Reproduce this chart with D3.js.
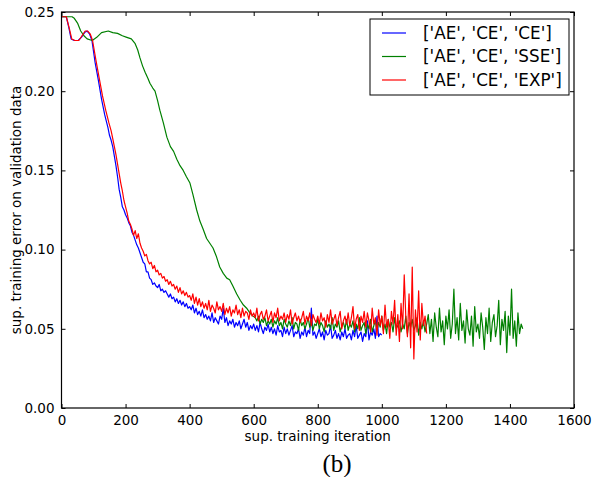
<!DOCTYPE html>
<html>
<head>
<meta charset="utf-8">
<script src="https://cdn.jsdelivr.net/npm/d3@7"></script>
<style>
  body { margin: 0; background: #fff; }
  svg text { font-family: "DejaVu Sans", sans-serif; }
</style>
</head>
<body>
<div id="chart"></div>
<script>
const margin = { top: 12, right: 19, bottom: 69, left: 61.5 },
    width = 593,
    height = 477,
    plotW = width - margin.left - margin.right,
    plotH = height - margin.top - margin.bottom;

// series names and colours (legend order)
const names = ["['AE', 'CE', 'CE']", "['AE', 'CE', 'SSE']", "['AE', 'CE', 'EXP']"];
const colors = ["#0000ff", "#008000", "#ff0000"];
const xTicks = [0, 200, 400, 600, 800, 1000, 1200, 1400, 1600];
const yTicks = [0.00, 0.05, 0.10, 0.15, 0.20, 0.25];

// errors are in thousandths (0.001). smooth start as [iteration, error]
const blueStart = [[0,247],[15,247],[22,241],[30,233],[40,232],[52,232],[62,234],[72,237],[80,238],[88,236],[95,232],[105,218],[115,207],[125,195],[135,185],[145,177]];
// then every 5 iterations from 150
const blueNoisy = [
  172,169,165,159,153,146,138,133,127,125,
  122,120,117,115,111,109,106,103,101,98,
  95,92,91,86,86,82,81,78,79,77,
  76,78,74,75,73,74,72,70,72,69,
  70,67,69,66,68,65,67,64,66,63,
  64,62,65,60,63,59,61,58,62,57,
  59,56,58,55,60,54,57,55,53,58,
  56,63,54,57,52,55,53,56,51,54,
  52,55,50,53,56,51,54,49,52,50,
  53,49,52,48,54,50,47,51,49,53,
  48,51,47,50,46,52,48,49,45,51,
  47,50,46,49,52,45,48,47,50,44,
  48,46,51,45,49,47,63,46,48,44,
  47,50,45,48,43,49,46,47,52,44,
  46,49,44,47,43,48,45,50,44,46,
  47,43,49,45,52,44,46,48,42,47,
  45,55,43,48,46,50,44,58,45,47,
  46
];

const greenStart = [[0,247],[20,247],[33,247],[40,246],[50,243],[60,238],[70,235],[80,233],[96,232],[110,234],[125,237],[146,238],[160,237],[175,236.5],[190,235],[204,234],[218,233],[230,230],[238,226],[245,221],[253,216],[261,212],[270,208],[276,205],[285,202],[292,200],[300,194],[307,188],[318,180],[329,171],[340,165],[350,162],[360,157],[370,153],[380,150],[390,146],[401,142],[410,135],[422,125],[432,118],[442,113],[453,107],[463,104],[473,101],[483,96],[494,89],[505,85],[516,82],[525,81],[535,77],[547,72],[558,68],[568,65],[578,63],[588,60],[598,58]];
// then every 5 iterations from 605
const greenNoisy = [
  57,55,58,53,56,54,57,52,55,53,
  56,51,55,53,57,52,54,50,56,53,
  51,55,52,57,50,54,53,49,56,52,
  54,50,53,57,51,55,49,53,52,56,
  50,54,52,48,55,51,53,50,57,49,
  53,51,55,48,52,54,50,56,49,53,
  51,55,48,53,50,57,49,52,54,47,
  53,50,56,48,52,55,49,54,51,58,
  49,53,47,56,51,54,48,57,50,52,
  55,48,53,50,58,47,54,51,56,49,
  52,57,46,54,50,55,48,53,59,47,
  56,42,60,51,45,63,48,55,40,58,
  50,62,44,53,75,47,57,43,66,49,
  55,41,62,50,46,58,39,64,48,53,
  44,60,51,37,57,47,63,42,54,59,
  45,52,68,40,56,49,61,35,58,46,
  75,44,55,39,60,47,53,50
];

const redStart = [[0,247],[15,247],[24,240],[32,233],[42,232],[54,232],[64,235],[74,238],[82,238],[90,236],[97,232],[108,219],[118,208],[128,197],[138,188],[148,180]];
// then every 5 iterations from 155
const redNoisy = [
  175,170,165,160,154,148,142,137,131,
  127,123,118,116,113,109,112,107,110,104,
  101,99,96,97,93,91,92,88,90,86,
  87,84,85,82,83,80,81,78,80,77,
  78,75,77,73,76,72,74,71,73,70,
  71,68,72,66,70,65,69,64,67,63,
  66,62,68,61,65,63,60,67,62,64,
  61,66,59,63,60,64,58,62,60,65,
  59,62,57,63,58,61,60,56,62,58,
  60,57,63,55,59,61,56,58,62,55,
  58,61,54,60,57,63,55,58,56,60,
  54,59,56,62,53,57,60,55,58,54,
  57,61,53,58,55,60,52,59,56,54,
  58,53,60,55,57,51,59,54,62,53,
  56,59,52,57,61,50,55,58,53,60,
  52,57,64,50,56,59,49,58,54,61,
  51,60,55,48,63,53,57,46,62,52,
  58,47,65,51,56,44,61,53,68,46,
  59,42,66,50,84,57,45,72,38,89,
  31,62,48,74,43,66,52,58,47
];

const joinSeries = (start, noisy, from) =>
    start.concat(noisy.map((v, i) => [from + i * 5, v]))
        .map(d => ({ it: d[0], err: d[1] / 1000 }));

const series = [
    joinSeries(blueStart, blueNoisy, 150),
    joinSeries(greenStart, greenNoisy, 605),
    joinSeries(redStart, redNoisy, 155)
];

const svg = d3.select("#chart")
    .append("svg")
    .attr("width", width)
    .attr("height", height);

const x = d3.scaleLinear().domain([0, 1600]).range([0, plotW]);
const y = d3.scaleLinear().domain([0, 0.25]).range([plotH, 0]);

const plot = svg.append("g")
    .attr("transform", `translate(${margin.left}, ${margin.top})`);

plot.append("clipPath").attr("id", "clip")
    .append("rect").attr("width", plotW).attr("height", plotH);

const line = d3.line().x(d => x(d.it)).y(d => y(d.err));

plot.append("g").attr("clip-path", "url(#clip)")
    .selectAll("path")
    .data(series)
    .join("path")
    .attr("d", line)
    .attr("fill", "none")
    .attr("stroke", (d, i) => colors[i])
    .attr("stroke-width", 1.2)
    .attr("stroke-linejoin", "round");

// axes with inward ticks on all four sides
const styleAxis = g => {
    g.select(".domain").remove();
    g.selectAll("line").attr("stroke", "#000");
    g.selectAll("text").attr("font-size", "13.5px").attr("fill", "#000");
};

plot.append("g")
    .attr("transform", `translate(0, ${plotH})`)
    .call(d3.axisBottom(x).tickValues(xTicks).tickSizeInner(-4).tickSizeOuter(0).tickPadding(7).tickFormat(d3.format("d")))
    .call(styleAxis);

plot.append("g")
    .call(d3.axisTop(x).tickValues(xTicks).tickSizeInner(-4).tickSizeOuter(0).tickFormat(""))
    .call(styleAxis);

plot.append("g")
    .call(d3.axisLeft(y).tickValues(yTicks).tickSizeInner(-4).tickSizeOuter(0).tickPadding(7).tickFormat(d3.format(".2f")))
    .call(styleAxis);

plot.append("g")
    .attr("transform", `translate(${plotW}, 0)`)
    .call(d3.axisRight(y).tickValues(yTicks).tickSizeInner(-4).tickSizeOuter(0).tickFormat(""))
    .call(styleAxis);

plot.append("rect")
    .attr("width", plotW)
    .attr("height", plotH)
    .attr("fill", "none")
    .attr("stroke", "#000")
    .attr("stroke-width", 1.2);

// axis titles
svg.append("text")
    .attr("x", margin.left + plotW / 2)
    .attr("y", 441)
    .attr("text-anchor", "middle")
    .attr("font-size", "13.5px")
    .text("sup. training iteration");

svg.append("text")
    .attr("transform", `translate(21, ${margin.top + plotH / 2}) rotate(-90)`)
    .attr("text-anchor", "middle")
    .attr("font-size", "13.5px")
    .text("sup. training error on validation data");

svg.append("text")
    .attr("x", 337)
    .attr("y", 472)
    .attr("text-anchor", "middle")
    .style("font-family", "'Liberation Serif', 'DejaVu Serif', serif")
    .attr("font-size", "25px")
    .text("(b)");

// legend
const legend = svg.append("g").attr("transform", "translate(370, 19)");
legend.append("rect")
    .attr("width", 199)
    .attr("height", 76)
    .attr("fill", "#fff")
    .attr("stroke", "#000")
    .attr("stroke-width", 1);

const items = legend.selectAll("g.item")
    .data(names)
    .join("g")
    .attr("class", "item")
    .attr("transform", (d, i) => `translate(0, ${14 + i * 23.5})`);

items.append("line")
    .attr("x1", 12).attr("x2", 36)
    .attr("stroke", (d, i) => colors[i])
    .attr("stroke-width", 1.2);

items.append("text")
    .attr("x", 53)
    .attr("dy", "0.35em")
    .attr("font-size", "16.8px")
    .text(d => d);
</script>
</body>
</html>
